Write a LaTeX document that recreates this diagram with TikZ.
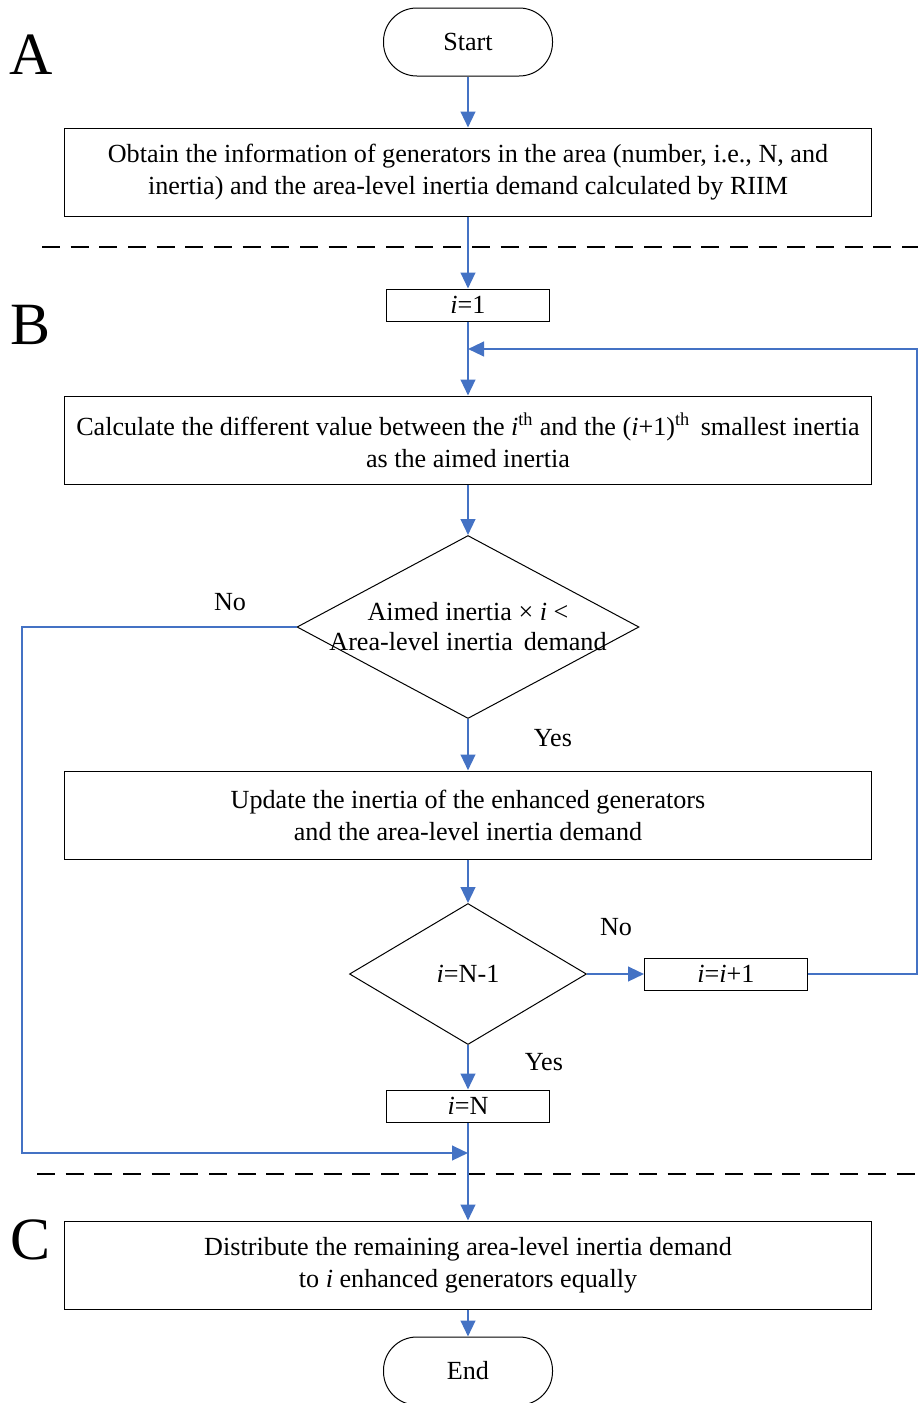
\documentclass[tikz,border=0pt]{standalone}
\usepackage{fontspec}
\setmainfont{Liberation Serif}
\usetikzlibrary{arrows.meta,shapes.geometric}
\definecolor{flowblue}{HTML}{4472C4}

\begin{document}
\begin{tikzpicture}[x=0.75pt,y=-0.75pt,
  every node/.style={font=\fontsize{19.6}{24}\selectfont},
  process/.style={draw,line width=0.75pt,minimum width=605.25pt,minimum height=66pt,align=center,inner sep=0pt},
  small/.style={draw,line width=0.75pt,minimum width=122.25pt,minimum height=24pt,inner sep=0pt},
  terminal/.style={draw,line width=0.75pt,rounded corners=25pt,minimum width=126.75pt,minimum height=51pt,inner sep=0pt},
  decision/.style={draw,diamond,line width=0.75pt,inner sep=0pt},
  flow/.style={flowblue,line width=1.7pt,-{Triangle[length=12pt,width=11pt]}},
  divider/.style={line width=1.8pt,dash pattern=on 13.5pt off 8pt},
  part/.style={font=\fontsize{45}{50}\selectfont}]
\useasboundingbox (0,0) rectangle (918,1403);
% coordinates
\coordinate (loopin)  at (468, 349);
\coordinate (loopup)  at (917, 349);
\coordinate (loopdn)  at (917, 974);
\coordinate (noleft)  at ( 22, 627);
\coordinate (nodown)  at ( 22,1153);
\coordinate (nojoin)  at (468,1153);
% parts
\node[part] (partA) at (31,  55) {A};
\node[part] (partB) at (31, 325) {B};
\node[part] (partC) at (31,1240) {C};
% dividers
\draw[divider] (42,247) -- (918,247);
\draw[divider] (37,1174) -- (918,1174);
% blocks
\node[terminal] (start) at (468,  42) {Start};
\node[process]  (info)  at (468, 172) {Obtain the information of generators in the area (number, i.e., N, and\\inertia) and the area-level inertia demand calculated by RIIM};
\node[small]    (init)  at (468, 305) {\textit{i}=1};
\node[process]  (calc)  at (468, 440) {Calculate the different value between the \textit{i}\textsuperscript{th} and the (\textit{i}+1)\textsuperscript{th}\, smallest inertia\\as the aimed inertia};
\node[decision,minimum width=256.5pt,minimum height=137.25pt,
      label={[align=center,font=\fontsize{19.6}{22.5}\selectfont]center:Aimed inertia × \textit{i} <\\Area-level inertia\, demand}] (check) at (468, 627) {};
\node[process]  (update) at (468, 815) {Update the inertia of the enhanced generators\\and the area-level inertia demand};
\node[decision,minimum width=177.75pt,minimum height=105.75pt,
      label={center:\textit{i}=N-1}] (last) at (468, 974) {};
\node[small]    (incr)  at (726, 974) {\textit{i}=\textit{i}+1};
\node[small]    (full)  at (468,1106) {\textit{i}=N};
\node[process]  (share) at (468,1265) {Distribute the remaining area-level inertia demand\\to \textit{i} enhanced generators equally};
\node[terminal] (stop)  at (468,1371) {End};
% labels
\node (no1)  at (230, 602) {No};
\node (yes1) at (553, 738) {Yes};
\node (no2)  at (616, 927) {No};
\node (yes2) at (544,1062) {Yes};
% connectors
\draw[flow] (start) -- (info);
\draw[flow] (info) -- (init);
\draw[flow] (init) -- (calc);
\draw[flow] (calc) -- (check);
\draw[flow] (check) -- (update);
\draw[flow] (update) -- (last);
\draw[flow] (last) -- (incr);
\draw[flow] (last) -- (full);
\draw[flow] (full) -- (share);
\draw[flow] (share) -- (stop);
\draw[flow] (incr.east) -- (loopdn) -- (loopup) -- (loopin);
\draw[flow] (check.west) -- (noleft) -- (nodown) -- (nojoin);
\end{tikzpicture}
\end{document}
